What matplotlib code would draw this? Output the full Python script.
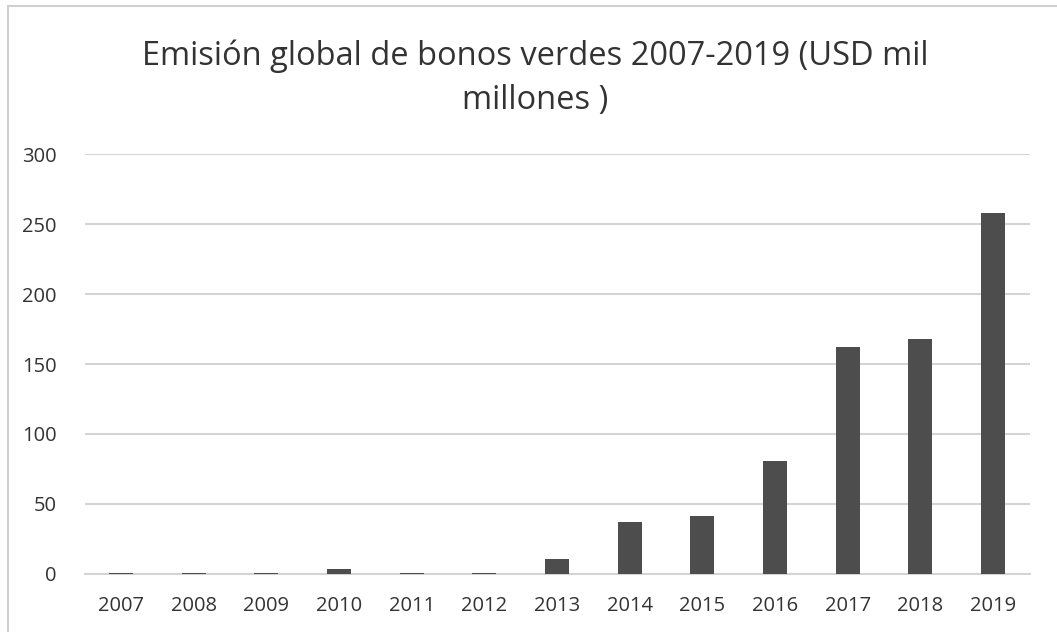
import numpy as np
import matplotlib.pyplot as plt
from matplotlib.patches import Rectangle

years = ['2007', '2008', '2009', '2010', '2011', '2012', '2013',
         '2014', '2015', '2016', '2017', '2018', '2019']
emision = [0.4, 0.4, 0.9, 3.8, 0.5, 0.3, 10.8, 37, 41.5, 81, 162, 168, 258]
yticks = [0, 50, 100, 150, 200, 250, 300]

plt.rcParams['font.family'] = ['Open Sans', 'DejaVu Sans']

fig = plt.figure(figsize=(10.57, 6.32), dpi=100)
# marco gris del grafico
fig.patches.append(Rectangle((8 / 1057, -0.05), 1.1, 1.05 - 6 / 632,
                             transform=fig.transFigure, fill=False,
                             edgecolor='#d0d0d0', linewidth=1.5))

ax = fig.add_axes([0.080, 0.092, 0.894, 0.664])
x = np.arange(len(years))
ax.bar(x, emision, width=0.33, color='#4d4d4d', zorder=3)

ax.set_ylim(0, 300)
ax.set_xlim(-0.5, len(years) - 0.5)
ax.set_yticks(yticks)
ax.set_xticks(x)
ax.set_xticklabels(years)
ax.yaxis.grid(True, color='#d4d4d4', linewidth=1.5, zorder=0)
for s in ['top', 'right', 'left']:
    ax.spines[s].set_visible(False)
ax.spines['bottom'].set_color('#d4d4d4')
ax.spines['bottom'].set_linewidth(1.5)
ax.tick_params(axis='both', length=0, labelsize=14.5, colors='#333333')
ax.tick_params(axis='y', pad=20)
ax.tick_params(axis='x', pad=16)

fig.text(0.506, 0.876, 'Emisión global de bonos verdes 2007-2019 (USD mil\nmillones )',
         ha='center', va='center', fontsize=23.5, color='#333333', linespacing=1.45)

fig.savefig('out.png', dpi=100)
